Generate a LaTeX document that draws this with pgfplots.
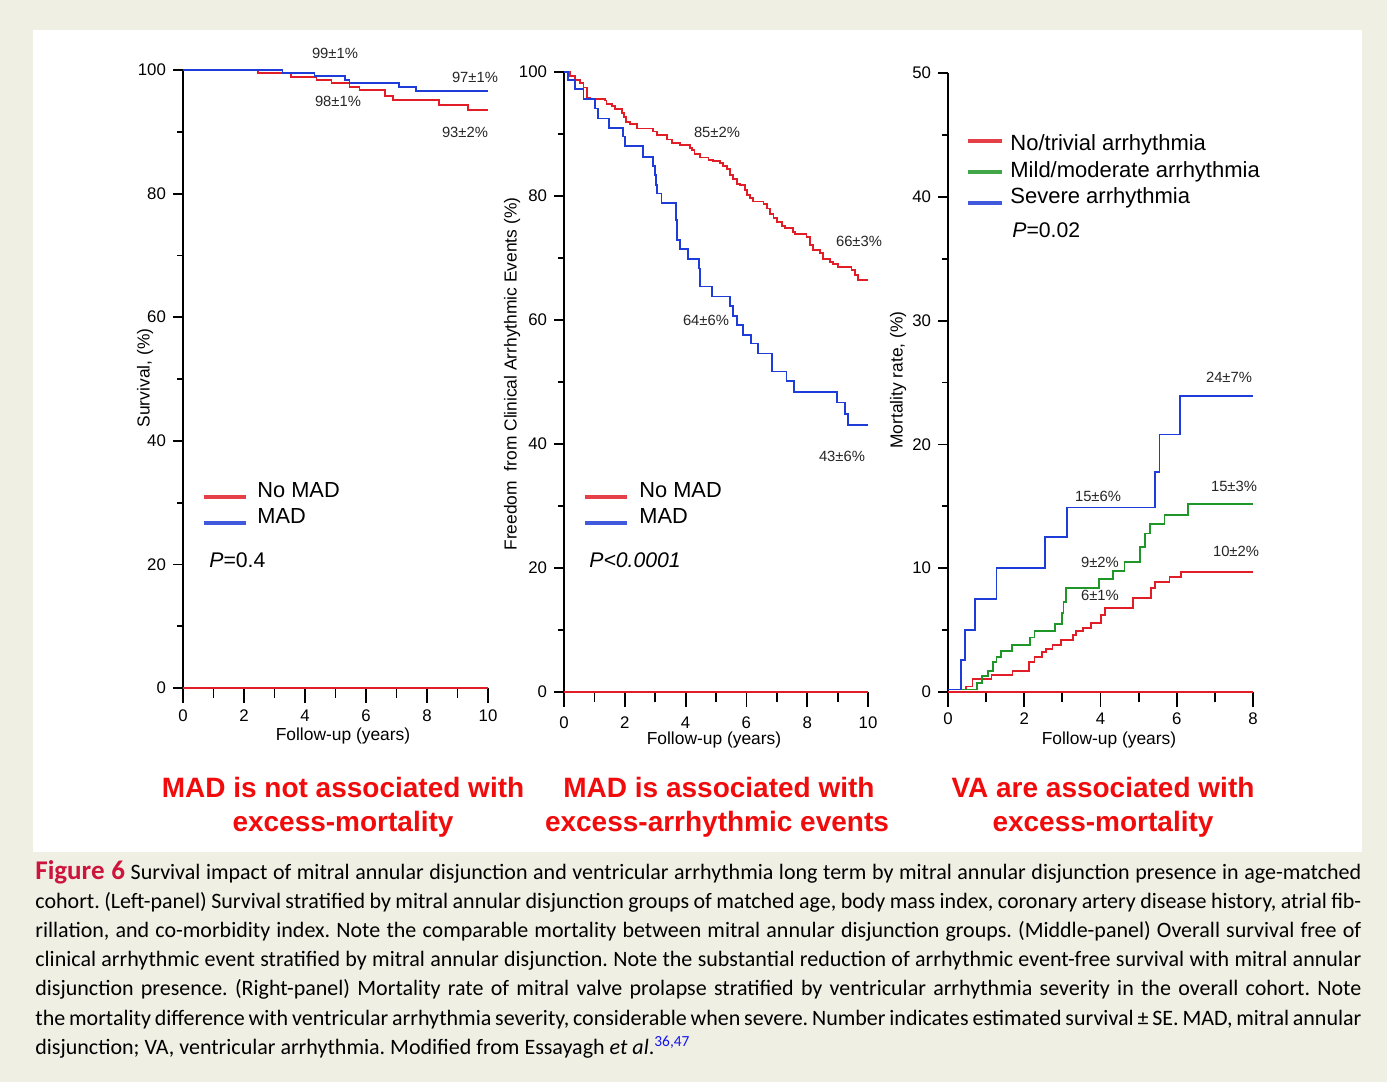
\documentclass[border=0pt]{standalone}
\usepackage{pgfplots}
\pgfplotsset{compat=1.18}
\usepackage{fontspec}
\setmainfont{Liberation Sans}
\newfontfamily\capfont{Carlito}
\definecolor{bg}{RGB}{239,239,228}
\definecolor{kmred}{RGB}{225,30,40}
\definecolor{kmblue}{RGB}{30,60,215}
\definecolor{kmgreen}{RGB}{30,150,40}
\definecolor{titlered}{RGB}{240,12,12}
\definecolor{figred}{RGB}{205,20,60}
\definecolor{refblue}{RGB}{20,20,240}
\pgfplotsset{km/.style={
  scale only axis, anchor=south west,
  axis lines=left, axis line style={-, line width=1pt, black},
  enlargelimits=false, clip=false,
  tick align=outside,
  major tick length=5pt, minor tick length=2.8pt,
  every tick/.style={line width=0.9pt, black},
  tick label style={font=\fontsize{8.4}{10}\selectfont},
  /pgf/number format/assume math mode=true,
  every axis plot/.append style={line width=0.9pt},
  extra x tick style={major tick length=7.5pt, tick style={line width=0.9pt, black}},
}}
\newcommand{\ann}[3]{\node[font=\fontsize{7.4}{9}\selectfont, text=black!85] at (#1,#2) {#3};}
\newcommand{\capline}[2]{\node[anchor=base west, inner sep=0pt] at (35,#1) {\capfont\fontsize{11}{13}\selectfont\makebox[663pt][s]{#2}};}
\frenchspacing
\begin{document}
\frenchspacing
\begin{tikzpicture}
\begin{scope}[x=0.5pt,y=-0.5pt]
\fill[bg] (0,0) rectangle (1387,1082);
\fill[white] (33,30) rectangle (1362,852);
\end{scope}

% ---------------- Panel 1
\begin{axis}[km, at={(91.5pt,-344pt)}, width=152.5pt, height=309pt,
  xmin=0,xmax=10,ymin=0,ymax=100,
  xtick={1,3,...,9}, xticklabels={,,,,},
  extra x ticks={0,2,...,10}, extra x tick labels={0,2,4,6,8,10},
  xticklabel shift=0pt,
  ytick={0,20,...,100}, minor ytick={10,30,...,90}]
\addplot[kmred, const plot] coordinates {(0,100)(2.47,99.5)(3.55,98.9)(4.38,98.4)(4.87,97.85)(5.46,97.3)(5.79,96.8)(6.61,95.8)(6.88,95.1)(8.39,94.4)(9.34,93.5)(10,93.5)};
\addplot[kmblue, const plot] coordinates {(0,100)(3.26,99.47)(4.31,99.03)(5.30,98.4)(5.46,97.85)(7.07,97.2)(7.63,96.6)(10,96.6)};
\addplot[kmred] coordinates {(0,0)(10,0)};
\end{axis}

% ---------------- Panel 2
\begin{axis}[km, at={(282pt,-346pt)}, width=152pt, height=310pt,
  xmin=0,xmax=10,ymin=0,ymax=100,
  xtick={1,3,...,9}, xticklabels={,,,,},
  extra x ticks={0,2,...,10}, extra x tick labels={0,2,4,6,8,10},
  xticklabel shift=1.5pt,
  ytick={0,20,...,100}, minor ytick={10,30,...,90}]
\addplot[kmred, const plot] coordinates {(0,100)(0.2,99.4)(0.36,98.7)(0.53,98.2)(0.64,97.5)(0.75,95.9)(0.86,95.6)(1.35,95.4)(1.40,94.9)(1.57,94.5)(1.68,94.0)(1.90,93.4)(1.97,92.7)(2.04,92.0)(2.17,91.6)(2.39,90.9)(2.94,90.4)(3.05,89.8)(3.38,89.1)(3.54,88.5)(3.82,88.2)(4.14,87.8)(4.20,87.4)(4.29,86.8)(4.47,86.2)(4.75,85.8)(4.91,85.6)(5.13,85.3)(5.24,84.8)(5.35,84.3)(5.46,83.4)(5.57,82.8)(5.68,82.0)(5.79,81.8)(5.95,81.0)(6.01,80.2)(6.12,79.7)(6.23,79.1)(6.56,78.7)(6.67,78.0)(6.78,77.1)(6.89,76.4)(7.00,75.8)(7.16,75.2)(7.27,74.8)(7.54,74.2)(7.60,73.9)(7.98,73.4)(8.09,72.1)(8.20,71.3)(8.42,70.8)(8.53,69.8)(8.75,69.4)(8.86,69.0)(9.02,68.5)(9.46,68.1)(9.57,67.3)(9.68,66.5)(10,66.5)};
\addplot[kmblue, const plot] coordinates {(0,100)(0.14,98.7)(0.36,97.2)(0.64,95.6)(1.02,94.1)(1.13,92.5)(1.49,91.0)(1.93,89.6)(2.01,88.1)(2.59,86.3)(2.94,84.8)(2.99,83.4)(3.03,81.8)(3.05,80.4)(3.21,78.9)(3.68,76.1)(3.73,72.9)(3.82,71.4)(4.09,69.8)(4.45,68.3)(4.47,65.4)(4.88,63.8)(5.46,62.3)(5.57,60.6)(5.68,59.2)(5.90,57.6)(6.14,56.2)(6.39,54.6)(6.83,51.7)(7.32,50.1)(7.57,48.4)(8.97,46.7)(9.24,44.9)(9.35,43.1)(10,43.1)};
\addplot[kmred] coordinates {(0,0)(10,0)};
\end{axis}

% ---------------- Panel 3
\begin{axis}[km, at={(474pt,-346pt)}, width=152.5pt, height=309.5pt,
  xmin=0,xmax=8,ymin=0,ymax=50,
  xtick={1,3,...,7}, xticklabels={,,,},
  extra x ticks={0,2,...,8}, extra x tick labels={0,2,4,6,8},
  xticklabel shift=-0.5pt,
  ytick={0,10,...,50}, minor ytick={5,15,...,45}]
\addplot[kmred, const plot] coordinates {(0,0.2)(0.48,0.45)(0.64,1.07)(1.14,1.4)(1.69,1.7)(2.12,2.4)(2.27,2.8)(2.47,3.2)(2.58,3.5)(2.74,3.8)(2.97,4.2)(3.28,4.6)(3.35,4.9)(3.54,5.2)(3.76,5.6)(4.02,6.2)(4.11,6.8)(4.85,7.6)(5.33,8.4)(5.42,8.9)(5.81,9.3)(6.12,9.7)(8,9.7)};
\addplot[kmgreen, const plot] coordinates {(0,0.2)(0.76,0.7)(0.90,1.3)(1.05,1.7)(1.18,2.4)(1.27,2.8)(1.38,3.3)(1.68,3.8)(2.16,4.4)(2.27,4.9)(2.81,5.5)(2.99,6.4)(3.03,7.3)(3.10,8.4)(3.96,9.1)(4.33,9.8)(4.63,10.5)(5.03,11.7)(5.16,12.8)(5.29,13.6)(5.68,14.3)(6.29,15.2)(8,15.2)};
\addplot[kmblue, const plot] coordinates {(0,0.2)(0.35,2.6)(0.44,5.0)(0.70,7.5)(1.27,10.0)(2.55,12.5)(3.12,14.9)(5.44,17.8)(5.55,20.8)(6.09,23.9)(8,23.9)};
\addplot[kmred] coordinates {(0,0)(8,0)};
\end{axis}

\begin{scope}[x=0.5pt,y=-0.5pt]
% axis labels
\node[font=\fontsize{8.7}{10}\selectfont] at (343,736) {Follow-up (years)};
\node[font=\fontsize{8.7}{10}\selectfont] at (714,740) {Follow-up (years)};
\node[font=\fontsize{8.7}{10}\selectfont] at (1109,740) {Follow-up (years)};
\node[font=\fontsize{8.7}{10}\selectfont, rotate=90] at (145,378) {Survival, (\%)};
\node[font=\fontsize{8.7}{10}\selectfont, rotate=90] at (512,374) {Freedom\ \ from Clinical Arrhythmic Events (\%)};
\node[font=\fontsize{8.7}{10}\selectfont, rotate=90] at (898,380) {Mortality rate, (\%)};
% annotations
\ann{335}{53}{99±1\%}
\ann{475}{77}{97±1\%}
\ann{338}{101}{98±1\%}
\ann{465}{132}{93±2\%}
\ann{717}{132}{85±2\%}
\ann{859}{241}{66±3\%}
\ann{706}{320}{64±6\%}
\ann{842}{456}{43±6\%}
\ann{1229}{377}{24±7\%}
\ann{1098}{496}{15±6\%}
\ann{1234}{486}{15±3\%}
\ann{1236}{551}{10±2\%}
\ann{1100}{562}{9±2\%}
\ann{1100}{595}{6±1\%}
% legends
\draw[kmred!85, line width=2pt] (204,497) -- (246,497);
\draw[kmblue!85, line width=2pt] (204,523) -- (246,523);
\node[anchor=base west, inner sep=0pt, font=\fontsize{10.9}{12}\selectfont] at (257,497) {No MAD};
\node[anchor=base west, inner sep=0pt, font=\fontsize{10.9}{12}\selectfont] at (257,523) {MAD};
\node[anchor=base west, inner sep=0pt, font=\fontsize{10.6}{12}\selectfont] at (209,567) {\textit{P}=0.4};
\draw[kmred!85, line width=2pt] (585,497) -- (627,497);
\draw[kmblue!85, line width=2pt] (585,523) -- (627,523);
\node[anchor=base west, inner sep=0pt, font=\fontsize{10.9}{12}\selectfont] at (639,497) {No MAD};
\node[anchor=base west, inner sep=0pt, font=\fontsize{10.9}{12}\selectfont] at (639,523) {MAD};
\node[anchor=base west, inner sep=0pt, font=\fontsize{10.6}{12}\selectfont] at (589,567) {\textit{P<0.0001}};
\draw[kmred!85, line width=2pt] (968,141) -- (1002,141);
\draw[kmgreen!85, line width=2pt] (968,172) -- (1002,172);
\draw[kmblue!85, line width=2pt] (968,203) -- (1002,203);
\node[anchor=base west, inner sep=0pt, font=\fontsize{11}{12}\selectfont] at (1010,150) {No/trivial arrhythmia};
\node[anchor=base west, inner sep=0pt, font=\fontsize{11}{12}\selectfont] at (1010,177) {Mild/moderate arrhythmia};
\node[anchor=base west, inner sep=0pt, font=\fontsize{11}{12}\selectfont] at (1010,203) {Severe arrhythmia};
\node[anchor=base west, inner sep=0pt, font=\fontsize{10.6}{12}\selectfont] at (1012,237) {\textit{P}=0.02};
% red titles
\begin{scope}[every node/.style={anchor=base, inner sep=0pt, text=titlered, font=\fontsize{14}{16}\selectfont\bfseries}]
\node at (343,797) {MAD is not associated with};
\node at (343,831) {excess-mortality};
\node at (719,797) {MAD is associated with};
\node at (717,831) {excess-arrhythmic events};
\node at (1103,797) {VA are associated with};
\node at (1103,831) {excess-mortality};
\end{scope}
% caption
\capline{879}{{\color{figred}\bfseries\fontsize{13.5}{13}\selectfont Figure 6} Survival impact of mitral annular disjunction and ventricular arrhythmia long term by mitral annular disjunction presence in age-matched}
\capline{908.2}{cohort. (Left-panel) Survival stratified by mitral annular disjunction groups of matched age, body mass index, coronary artery disease history, atrial fib-}
\capline{937.4}{rillation, and co-morbidity index. Note the comparable mortality between mitral annular disjunction groups. (Middle-panel) Overall survival free of}
\capline{966.6}{clinical arrhythmic event stratified by mitral annular disjunction. Note the substantial reduction of arrhythmic event-free survival with mitral annular}
\capline{995.8}{disjunction presence. (Right-panel) Mortality rate of mitral valve prolapse stratified by ventricular arrhythmia severity in the overall cohort. Note}
\capline{1025}{the mortality difference with ventricular arrhythmia severity, considerable when severe. Number indicates estimated survival ± SE. MAD, mitral annular}
\node[anchor=base west, inner sep=0pt] at (35,1054.2) {\capfont\fontsize{11}{13}\selectfont disjunction; VA, ventricular arrhythmia. Modified from Essayagh {\itshape et al}.\textsuperscript{\color{refblue}36,47}};
\end{scope}
\end{tikzpicture}
\end{document}
